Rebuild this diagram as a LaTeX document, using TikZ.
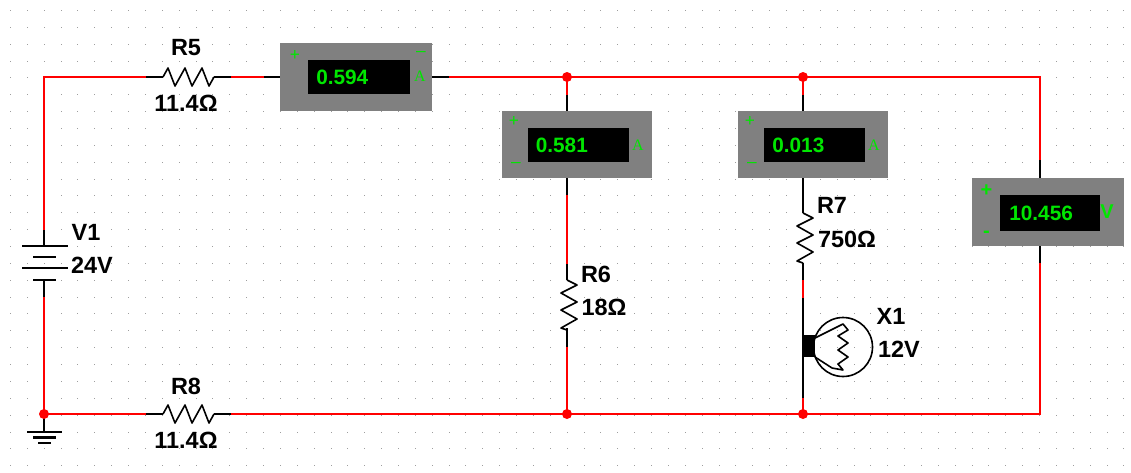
\documentclass[tikz,border=0pt]{standalone}
\usepackage{fontspec}
\setmainfont{Liberation Sans}
\newfontfamily\serifmeter{Liberation Serif}
\definecolor{wirered}{RGB}{255,0,0}
\definecolor{metergray}{RGB}{128,128,128}
\definecolor{metergreen}{RGB}{0,230,0}
\tikzset{
  wire/.style={draw=wirered, line width=1.9pt},
  lead/.style={draw=black, line width=1.9pt},
  zig/.style={draw=black, line width=1.2pt, line join=round},
  junction/.style={circle, fill=wirered, minimum size=7.5pt, inner sep=0pt},
  meter/.style={fill=metergray, inner sep=0pt, minimum width=112.5pt, minimum height=50.5pt},
  display/.style={fill=black, inner sep=0pt, minimum width=76pt, minimum height=25.5pt},
  reading/.style={font=\bfseries\fontsize{15.6}{15.6}\selectfont, text=metergreen, anchor=west, inner sep=0pt},
  sign/.style={font=\fontsize{13}{13}\selectfont, text=metergreen, inner sep=0pt},
  boldsign/.style={font=\bfseries\fontsize{15}{15}\selectfont, text=metergreen, inner sep=0pt},
  unit/.style={font=\serifmeter\fontsize{12}{12}\selectfont, text=metergreen, inner sep=0pt},
  label/.style={font=\bfseries\fontsize{17.6}{17.6}\selectfont, inner sep=0pt},
  hres/.pic={\draw[zig] (-23,0) -- (-18,-9) -- (-11,9) -- (-1,-9) -- (6,9) -- (16,-9) -- (23,9) -- (28,0);},
  vres/.pic={\draw[zig] (0,-25) -- (10,-20) -- (-6,-12) -- (10,-3) -- (-6,5) -- (10,14) -- (-6,23) -- (0,25);}
}
\begin{document}
\begin{tikzpicture}[x=0.75pt, y=-0.75pt]
    \useasboundingbox (0,0) rectangle (1131,472);
    \fill[white] (0,0) rectangle (1131,472);
    % grid
    \foreach \i in {0,...,66} {
        \foreach \j in {0,...,27} {
            \fill[black!38] ({10+16.87*\i},{10+16.86*\j}) rectangle ++(1,1);
        }
    }
    % named points
    \coordinate (C1) at (44,77);
    \coordinate (C2) at (1040,77);
    \coordinate (C3) at (1040,414);
    \coordinate (V1a) at (44,230);
    \coordinate (V1t) at (44,246);
    \coordinate (V1u) at (44,280);
    \coordinate (V1b) at (44,297);
    \coordinate (R5a) at (146,77);
    \coordinate (R5b) at (231,77);
    \coordinate (R5c) at (264,77);
    \coordinate (M1c) at (449,77);
    \coordinate (R8a) at (146,414);
    \coordinate (R8b) at (231,414);
    \coordinate (M2a) at (567,95);
    \coordinate (M2b) at (567,195);
    \coordinate (R6a) at (567,264);
    \coordinate (R6b) at (567,347);
    \coordinate (M3a) at (803,95);
    \coordinate (R7a) at (803,280);
    \coordinate (R7b) at (803,298);
    \coordinate (X1b) at (803,398);
    \coordinate (M4a) at (1040,160);
    \coordinate (M4b) at (1040,263);
    \coordinate (G1) at (44,432);
    % meters
    \node[meter, minimum width=114pt] (M1) at (356,77) {};
    \node[display] (D1) at (359,77) {};
    \node[reading] (T1) at (316,77.5) {0.594};
    \node[sign] (P1) at (295,55) {+};
    \node[sign] (N1) at (421,54) {--};
    \node[unit] (U1) at (420,76) {A};
    \node[meter] (M2) at (577,144.5) {};
    \node[display] (D2) at (578.5,145) {};
    \node[reading] (T2) at (535.5,145) {0.581};
    \node[sign] (P2) at (514,121.5) {+};
    \node[sign] (N2) at (516,165) {--};
    \node[unit] (U2) at (638,145) {A};
    \node[meter] (M3) at (813,144.5) {};
    \node[display] (D3) at (814.5,145) {};
    \node[reading] (T3) at (772,145) {0.013};
    \node[sign] (P3) at (750,121.5) {+};
    \node[sign] (N3) at (752,165) {--};
    \node[unit] (U3) at (874,145) {A};
    \node[meter, minimum width=114pt, minimum height=51pt] (M4) at (1048,212) {};
    \node[display, minimum width=75pt, minimum height=27pt] (D4) at (1050,213) {};
    \node[reading] (T4) at (1009,213) {10.456};
    \node[boldsign] (P4) at (986.5,191) {+};
    \node[boldsign] (N4) at (986.5,234) {-};
    \node[boldsign] (U4) at (1107,212) {V};
    % red wires
    \draw[wire] (V1a) -- (C1) -- (R5a);
    \draw[wire] (R5b) -- (R5c);
    \draw[wire] (M1c) -- (C2) -- (M4a);
    \draw[wire] (M4b) -- (C3) -- (R8b);
    \draw[wire] (R8a) -- (44,414) -- (V1b);
    \draw[wire] (567,77) -- (M2a);
    \draw[wire] (M2b) -- (R6a);
    \draw[wire] (R6b) -- (567,414);
    \draw[wire] (803,77) -- (M3a);
    \draw[wire] (R7a) -- (R7b);
    \draw[wire] (X1b) -- (803,414);
    % black leads
    \draw[lead] (R5a) -- ++(17,0);
    \draw[lead] (R5b) -- ++(-17,0);
    \draw[lead] (R5c) -- (M1.west);
    \draw[lead] (M1.east) -- (M1c);
    \draw[lead] (R8a) -- ++(17,0);
    \draw[lead] (R8b) -- ++(-17,0);
    \draw[lead] (M2a) -- (M2a |- M2.north);
    \draw[lead] (M2b |- M2.south) -- (M2b);
    \draw[lead] (R6a) -- ++(0,16);
    \draw[lead] (R6b) -- ++(0,-19);
    \draw[lead] (M3a) -- (M3a |- M3.north);
    \draw[lead] (M3a |- M3.south) -- (803,213);
    \draw[lead] (803,263) -- (R7a);
    \draw[lead] (R7b) -- (X1b);
    \draw[lead] (M4a) -- (M4a |- M4.north);
    \draw[lead] (M4b |- M4.south) -- (M4b);
    % resistors
    \pic at (186,77) {hres};
    \pic at (186,414) {hres};
    \pic at (567,305) {vres};
    \pic at (803,238) {vres};
    % battery
    \draw[lead] (V1a) -- (V1t);
    \draw[lead] (V1u) -- (V1b);
    \draw[lead] (22,246) -- (68,246);
    \draw[lead] (33,257) -- (56,257);
    \draw[lead] (22,268) -- (68,268);
    \draw[lead] (33,280) -- (56,280);
    % ground
    \draw[lead] (44,414) -- (G1);
    \draw[lead] (27,432) -- (62,432);
    \draw[lead] (33,437.5) -- (56,437.5);
    \draw[lead] (38,443) -- (51,443);
    % lamp
    \fill[black] (803,335) rectangle (815,357);
    \draw[zig] (843,347) circle (29.5);
    \draw[zig] (815,338) -- (843,324) -- (848,330) -- (838,336) -- (848,343) -- (838,350) -- (848,357) -- (838,364) -- (843,370) -- (832,368) -- (815,357);
    % junctions
    \node[junction] (J1) at (567,77) {};
    \node[junction] (J2) at (803,77) {};
    \node[junction] (J3) at (567,414) {};
    \node[junction] (J4) at (803,414) {};
    \node[junction] (J5) at (44,414) {};
    % labels
    \node[label] (LR5) at (186,48) {R5};
    \node[label] (VR5) at (186,103) {11.4Ω};
    \node[label] (LR8) at (186,386) {R8};
    \node[label] (VR8) at (186,440) {11.4Ω};
    \node[label] (LV1) at (86,232) {V1};
    \node[label] (VV1) at (92,265) {24V};
    \node[label] (LR6) at (596,274) {R6};
    \node[label] (VR6) at (604,307) {18Ω};
    \node[label] (LR7) at (832,205) {R7};
    \node[label] (VR7) at (847,239) {750Ω};
    \node[label] (LX1) at (891,316) {X1};
    \node[label] (VX1) at (899,349) {12V};
\end{tikzpicture}
\end{document}
